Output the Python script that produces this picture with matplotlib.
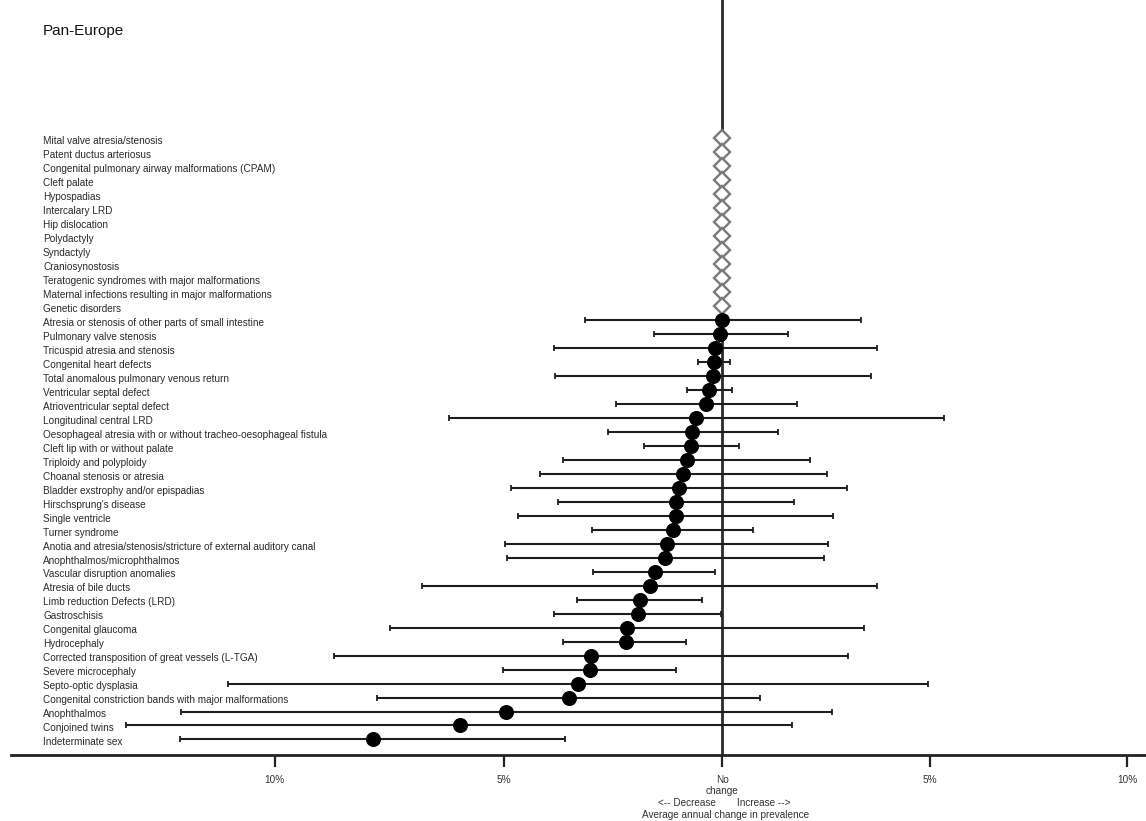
import numpy as np
import matplotlib
matplotlib.use("Agg")
import matplotlib.pyplot as plt
import matplotlib.transforms as mtransforms

plt.rcParams["font.family"] = ["Liberation Sans", "DejaVu Sans"]

# Anomaly groups without a trend estimate (shown as open diamonds at zero)
flat_groups = [
    "Mital valve atresia/stenosis",
    "Patent ductus arteriosus",
    "Congenital pulmonary airway malformations (CPAM)",
    "Cleft palate",
    "Hypospadias",
    "Intercalary LRD",
    "Hip dislocation",
    "Polydactyly",
    "Syndactyly",
    "Craniosynostosis",
    "Teratogenic syndromes with major malformations",
    "Maternal infections resulting in major malformations",
    "Genetic disorders",
]
flat_change = [0.0] * len(flat_groups)

# Anomaly groups with an estimated average annual change (%) and 95% CI
trend_groups = [
    "Atresia or stenosis of other parts of small intestine",
    "Pulmonary valve stenosis",
    "Tricuspid atresia and stenosis",
    "Congenital heart defects",
    "Total anomalous pulmonary venous return",
    "Ventricular septal defect",
    "Atrioventricular septal defect",
    "Longitudinal central LRD",
    "Oesophageal atresia with or without tracheo-oesophageal fistula",
    "Cleft lip with or without palate",
    "Triploidy and polyploidy",
    "Choanal stenosis or atresia",
    "Bladder exstrophy and/or epispadias",
    "Hirschsprung's disease",
    "Single ventricle",
    "Turner syndrome",
    "Anotia and atresia/stenosis/stricture of external auditory canal",
    "Anophthalmos/microphthalmos",
    "Vascular disruption anomalies",
    "Atresia of bile ducts",
    "Limb reduction Defects (LRD)",
    "Gastroschisis",
    "Congenital glaucoma",
    "Hydrocephaly",
    "Corrected transposition of great vessels (L-TGA)",
    "Severe microcephaly",
    "Septo-optic dysplasia",
    "Congenital constriction bands with major malformations",
    "Anophthalmos",
    "Conjoined twins",
    "Indeterminate sex",
]
trend_change = [0.00, -0.06, -0.17, -0.19, -0.23, -0.31, -0.38, -0.62, -0.72, -0.73,
                -0.84, -0.92, -1.01, -1.08, -1.08, -1.16, -1.29, -1.33, -1.58, -1.69,
                -1.92, -1.97, -2.23, -2.25, -3.04, -3.07, -3.33, -3.55, -4.96, -5.99,
                -7.88]
trend_low = [-3.18, -1.60, -3.88, -0.56, -3.85, -0.84, -2.48, -6.22, -2.66, -1.82,
             -3.67, -4.21, -4.84, -3.79, -4.69, -3.01, -4.98, -4.95, -3.00, -6.83,
             -3.37, -3.88, -7.53, -3.68, -8.73, -5.03, -10.98, -7.81, -11.95, -13.09,
             -11.97]
trend_high = [3.31, 1.55, 3.70, 0.18, 3.56, 0.22, 1.76, 5.35, 1.31, 0.39,
              2.08, 2.49, 2.97, 1.70, 2.64, 0.72, 2.52, 2.43, -0.18, 3.71,
              -0.48, -0.04, 3.38, -0.85, 2.99, -1.08, 4.96, 0.88, 2.61, 1.64,
              -3.63]

tick_values = [-10, -5, 0, 5, 10]
tick_labels = ["10%", "5%", "No\nchange", "5%", "10%"]

W, H = 1146, 821
fig = plt.figure(figsize=(W / 100, H / 100), dpi=100)
ax = fig.add_axes([11 / W, 1 - 755 / H, 1 - 11 / W, 755 / H])

# Ratio (log) scale for percentage change
def fwd(x):
    return np.log1p(np.asarray(x, dtype=float) / 100.0)

def inv(y):
    return np.expm1(np.asarray(y, dtype=float)) * 100.0

ax.set_xscale("function", functions=(fwd, inv))
ax.set_xlim(-15.41, 10.48)

n_flat = len(flat_groups)
rows_flat = np.arange(n_flat)
rows_trend = np.arange(n_flat, n_flat + len(trend_groups))
ax.set_ylim(44.11, -9.89)

# No-change reference line
ax.axvline(0, color="#2b2b2b", lw=2.0, zorder=1)

# Open diamonds for groups without a trend
ax.plot(flat_change, rows_flat, linestyle="none", marker="D", ms=8.0,
        mfc="white", mec="#7a7a7a", mew=1.7, zorder=3)

# Estimates with confidence intervals
est = np.array(trend_change)
lo = np.array(trend_low)
hi = np.array(trend_high)
ax.errorbar(est, rows_trend, xerr=[est - lo, hi - est], fmt="none",
            ecolor="#1e1e1e", elinewidth=1.5, capsize=2.3, capthick=1.3, zorder=2)
ax.plot(est, rows_trend, linestyle="none", marker="o", ms=9.8,
        color="black", zorder=4)

# Category labels on the left
lab_tr = mtransforms.blended_transform_factory(ax.transAxes, ax.transData)
for i, name in enumerate(flat_groups + trend_groups):
    ax.text((43 - 11) / (W - 11), i + 0.2, name, transform=lab_tr,
            ha="left", va="center", fontsize=7.2, color="#2a2a2a")

# Axis styling
for side in ("top", "left", "right"):
    ax.spines[side].set_visible(False)
ax.spines["bottom"].set_linewidth(2.0)
ax.spines["bottom"].set_color("#222222")
ax.set_yticks([])
ax.set_xticks(tick_values)
ax.set_xticklabels(tick_labels)
ax.tick_params(axis="x", length=8.6, width=1.6, color="#222222",
               pad=6.0, labelsize=7.2, labelcolor="#333333")
ax.xaxis.set_minor_locator(matplotlib.ticker.NullLocator())
for lbl in ax.get_xticklabels():
    lbl.set_linespacing(1.05)

# Direction hints and axis title under the zero tick
ax.annotate("<-- Decrease", xy=(0, 0), xycoords=("data", "axes fraction"),
            xytext=(-35 * 0.72, -(803 - 755) * 0.72), textcoords="offset points",
            ha="center", va="center", fontsize=7.2, color="#333333")
ax.annotate("Increase -->", xy=(0, 0), xycoords=("data", "axes fraction"),
            xytext=(41 * 0.72, -(803 - 755) * 0.72), textcoords="offset points",
            ha="center", va="center", fontsize=7.2, color="#333333")
ax.annotate("Average annual change in prevalence", xy=(0, 0),
            xycoords=("data", "axes fraction"),
            xytext=(3 * 0.72, -(815 - 755) * 0.72), textcoords="offset points",
            ha="center", va="center", fontsize=7.2, color="#333333")

fig.text(43 / W, 1 - 31 / H, "Pan-Europe", ha="left", va="center",
         fontsize=11, color="#111111")

fig.savefig("out.png", dpi=100, facecolor="white")
